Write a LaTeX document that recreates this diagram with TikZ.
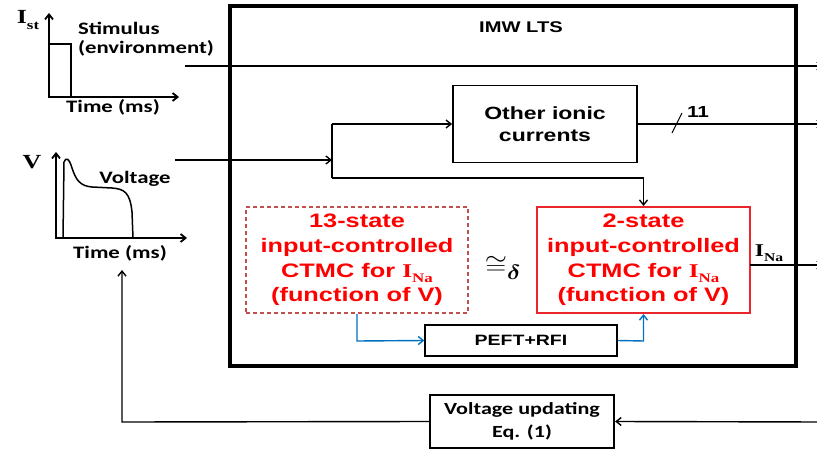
\documentclass[tikz,border=0pt]{standalone}
\usepackage{amsmath}
\usepackage{fontspec}
\usepackage{graphicx}
\usetikzlibrary{arrows.meta}
\newfontfamily\arw[FakeStretch=1.3]{Liberation Sans}
\newfontfamily\calw[FakeStretch=1.3]{Carlito}
\newfontfamily\serw[FakeStretch=1.3]{Liberation Serif}
\newcommand\isub[3]{{\serw\bfseries #1\raisebox{-0.3em}{\fontsize{#3}{#3}\selectfont #2}}}
\definecolor{redtxt}{HTML}{FF0000}
\definecolor{redbox}{HTML}{E8262B}
\definecolor{reddash}{HTML}{C0504D}
\definecolor{bluearr}{HTML}{0070C0}
\begin{document}
\begin{tikzpicture}[x=1pt,y=-1pt,
  >={Straight Barb[length=5pt,width=8pt]},
  line width=1.4pt,
  blk/.style={draw, inner sep=0pt, align=center},
  sansb/.style={font=\arw\bfseries\fontsize{#1}{20}\selectfont},
  calb/.style={font=\calw\bfseries\fontsize{#1}{22}\selectfont},
  redtext/.style={text=redtxt, font=\arw\bfseries\fontsize{19.5}{24.7}\selectfont},
  axis/.style={line width=1.8pt, ->},
  blueline/.style={draw=bluearr, line width=1.4pt, ->}]
\useasboundingbox (0,0) rectangle (817,452);
\fill[white] (0,0) rectangle (817,452);

% main box
\node[blk, line width=3.5pt, minimum width=566pt, minimum height=360pt] (imw) at (513,186) {};
\node[sansb=15.5] (title) at (521,27) {IMW LTS};

% inner boxes
\node[blk, line width=1.8pt, minimum width=184pt, minimum height=77pt, font=\arw\bfseries\fontsize{17.7}{22}\selectfont] (other) at (545,124) {Other ionic\\currents};
\node[blk, draw=reddash, dashed, dash pattern=on 4pt off 3pt, line width=1.5pt, minimum width=222pt, minimum height=106pt, redtext] (s13) at (357,260)
  {13-state\\input-controlled\\CTMC for \isub{I}{Na}{13}\\(function of V)};
\node[blk, draw=redbox, line width=2pt, minimum width=213pt, minimum height=106pt, redtext] (s2) at (643.5,260)
  {2-state\\input-controlled\\CTMC for \isub{I}{Na}{13}\\(function of V)};
\node[inner sep=0pt] (cong) at (503,268) {\scalebox{1.15}[1]{\fontsize{30}{30}\selectfont$\cong_{\boldsymbol{\delta}}$}};
\node[blk, line width=1.3pt, minimum width=192pt, minimum height=31pt, sansb=15] (peft) at (521,340.5) {PEFT+RFI};
\node[blk, line width=2.2pt, minimum width=184pt, minimum height=53pt, font=\calw\bfseries\fontsize{17}{23}\selectfont] (vu) at (522,421.5) {Voltage updating\\Eq. (1)};

% stimulus graph
\draw[axis] (49,98) -- (49,13);
\draw[axis] (48,97) -- (179,97);
\draw[line width=1.5pt] (49,44) -- (71,44) -- (71,97);
\node[font=\fontsize{20}{20}\selectfont] (ist) at (28,20) {\isub{I}{st}{13}};
\node[calb=17.5, anchor=west] (stim1) at (74,28) {Stimulus};
\node[calb=17.5, anchor=west] (stim2) at (74,48) {(environment)};
\node[calb=17.5] (time1) at (113,107) {Time (ms)};

% voltage graph
\draw[axis] (56,239) -- (56,152);
\draw[axis] (55,238) -- (187,238);
\draw[line width=1.5pt] (63,238) -- (64,162) .. controls (66,157) and (69,158) .. (72,168)
  .. controls (76,180) and (80,186) .. (92,187) -- (112,188)
  .. controls (124,189) and (130,192) .. (132,212) -- (133,238);
\node[font=\serw\bfseries\fontsize{20}{20}\selectfont] (vlab) at (32,162) {V};
\node[calb=17.5] (volt) at (135,179) {Voltage};
\node[calb=17.5] (time2) at (120,253) {Time (ms)};

% connectors
\coordinate (stimstart) at (185,66);
\coordinate (stimend) at (823,66);
\draw[->] (stimstart) -- (stimend);
\coordinate (vstart) at (175,160);
\coordinate (split) at (332,160);
\coordinate (splittop) at (332,124);
\coordinate (splitbot) at (332,178);
\coordinate (turn) at (643.5,178);
\draw[->] (vstart) -- (split);
\draw (splittop) -- (splitbot);
\draw[->] (splittop) -- (other.west);
\draw[->] (splitbot) -- (turn) -- (s2.north);
\coordinate (oend) at (823,124);
\draw[->] (other.east) -- (oend);
\coordinate (sl1) at (672,133);
\coordinate (sl2) at (682,113);
\draw[line width=1pt] (sl1) -- (sl2);
\node[sansb=16] (eleven) at (698,112) {11};
\coordinate (naout) at (750,265);
\coordinate (naend) at (823,265);
\draw[->] (naout) -- (naend);
\node[font=\fontsize{18}{18}\selectfont] (inalab) at (769,253) {\isub{I}{Na}{12}};

% blue arrows
\coordinate (b1) at (357,341);
\coordinate (b2) at (643.5,341);
\draw[blueline] (s13.south) -- (b1) -- (peft.west);
\draw[blueline] (peft.east) -- (b2) -- (s2.south);

% feedback
\coordinate (fbin) at (823,422);
\coordinate (fbcorner) at (122,422);
\coordinate (fbend) at (122,270);
\draw[->] (fbin) -- (vu.east);
\draw[->] (vu.west) -- (fbcorner) -- (fbend);
\end{tikzpicture}
\end{document}
